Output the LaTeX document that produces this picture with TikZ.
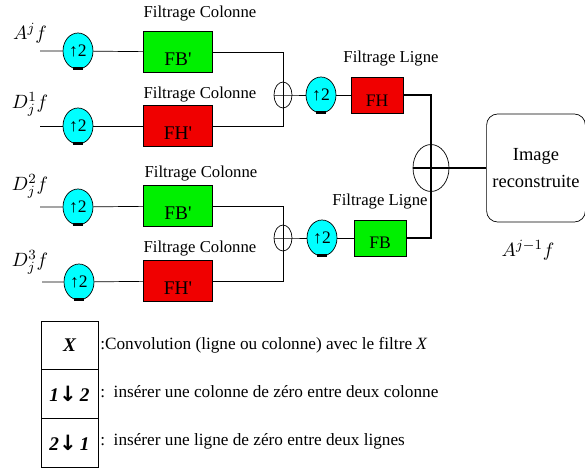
\documentclass[tikz,border=0pt]{standalone}
\usepackage{fontspec}
\setmainfont{Liberation Serif}
\newfontfamily\arrowfont{DejaVu Sans}
\usetikzlibrary{shapes.geometric}

\definecolor{upcyan}{RGB}{0,255,255}
\definecolor{fbgreen}{RGB}{0,240,0}
\definecolor{fhred}{RGB}{240,0,0}

\tikzset{
	upsmp/.style={ellipse, draw, fill=upcyan, minimum width=0.6cm, minimum height=0.72cm, inner sep=0pt, font=\fontsize{10}{10}\selectfont},
	filtcol/.style={rectangle, draw, minimum width=1.38cm, minimum height=0.82cm, inner sep=0pt},
	filtlig/.style={rectangle, draw, minimum width=1.04cm, minimum height=0.72cm, inner sep=0pt},
	sumsm/.style={ellipse, draw, minimum width=0.36cm, minimum height=0.52cm, inner sep=0pt},
	sumbig/.style={ellipse, draw, minimum width=0.72cm, minimum height=0.94cm, inner sep=0pt},
	ttl/.style={font=\fontsize{9.5}{11}\selectfont, inner sep=0pt},
	boxtxt/.style={font=\fontsize{11}{12}\selectfont, inner sep=0pt},
	sig/.style={font=\fontsize{11}{12}\selectfont, inner sep=0pt},
	cell/.style={rectangle, draw, minimum width=1.14cm, minimum height=0.974cm, inner sep=0pt, font=\fontsize{11}{12}\selectfont\bfseries\itshape},
	legtxt/.style={anchor=west, inner sep=0pt, font=\fontsize{9.8}{11}\selectfont}
}
\newcommand{\downarr}{{\arrowfont\upshape\bfseries\fontsize{12}{12}\selectfont ↓}}

\begin{document}
\begin{tikzpicture}[x=0.02cm, y=-0.02cm]
		\useasboundingbox (0,0) rectangle (585,470);
		%%%%% START %%%%%
		% inputs
		\node[sig] (a1) at (30,33) {$A^{j}f$};
		\node[sig] (a2) at (30,104) {$D^{1}_{j}f$};
		\node[sig] (a3) at (30,186) {$D^{2}_{j}f$};
		\node[sig] (a4) at (30,262) {$D^{3}_{j}f$};
		\coordinate (in1) at (40,51);
		\coordinate (in2) at (40,126);
		\coordinate (in3) at (40,207);
		\coordinate (in4) at (42,282);
		
		% up-sampling on the columns
		\node[upsmp] (u1) at (78,51) {↑2};
		\node[upsmp] (u2) at (78,126) {↑2};
		\node[upsmp] (u3) at (78,207) {↑2};
		\node[upsmp] (u4) at (79,282) {↑2};
		
		% column filters
		\node[filtcol, fill=fbgreen] (c1) at (178,52) {};
		\node[filtcol, fill=fhred] (c2) at (178,126) {};
		\node[filtcol, fill=fbgreen] (c3) at (178,206) {};
		\node[filtcol, fill=fhred] (c4) at (178,281) {};
		\node[boxtxt] (t1) at ([yshift=-4pt]c1.center) {FB\textquotesingle};
		\node[boxtxt] (t2) at ([yshift=-4pt]c2.center) {FH\textquotesingle};
		\node[boxtxt] (t3) at ([yshift=-4pt]c3.center) {FB\textquotesingle};
		\node[boxtxt] (t4) at ([yshift=-4pt]c4.center) {FH\textquotesingle};
		\node[ttl] (h1) at (200,14) {Filtrage Colonne};
		\node[ttl] (h2) at (200,95) {Filtrage Colonne};
		\node[ttl] (h3) at (201,174) {Filtrage Colonne};
		\node[ttl] (h4) at (200,249) {Filtrage Colonne};
		
		\draw (in1) -- (u1) -- (c1);
		\draw (in2) -- (u2) -- (c2);
		\draw (in3) -- (u3) -- (c3);
		\draw (in4) -- (u4) -- (c4);
		
		% first sums
		\node[sumsm] (s1) at (283,95) {};
		\node[sumsm] (s2) at (283,238) {};
		\draw (c1.east) -| (s1.center);
		\draw (c2.east) -| (s1.center);
		\draw (c3.east) -| (s2.center);
		\draw (c4.east) -| (s2.center);
		
		% row stage
		\node[upsmp] (u5) at (321,95) {↑2};
		\node[upsmp] (u6) at (322,238) {↑2};
		\node[filtlig, fill=fhred] (fh) at (377,95) {};
		\node[filtlig, fill=fbgreen] (fb) at (380,238) {};
		\node[boxtxt, font=\fontsize{10}{11}\selectfont] (t5) at ([yshift=-3.5pt]fh.center) {FH};
		\node[boxtxt, font=\fontsize{10}{11}\selectfont] (t6) at ([yshift=-2.5pt]fb.center) {FB};
		\node[ttl] (h5) at (391,59) {Filtrage Ligne};
		\node[ttl] (h6) at (380,202) {Filtrage Ligne};
		
		\draw (s1.west) -- (s1.east) -- (u5) -- (fh);
		\draw (s2.west) -- (s2.east) -- (u6) -- (fb);
		
		% dark rim under each up-sampler
		\foreach \u in {u1,u2,u3,u4,u5,u6}
			\draw[line width=1.3pt] (\u.-105) -- (\u.-75);
		
		% final sum and output
		\node[sumbig] (S) at (431,168) {};
		\node[draw, rounded corners=0.22cm, minimum width=1.92cm, minimum height=2.16cm, align=center, font=\fontsize{10.5}{15}\selectfont] (img) at (536,168) {Image\\reconstruite};
		\node[sig] (out) at (528,250) {$A^{j-1}f$};
		\draw[line width=1.2pt] (fh.east) -| (S.center);
		\draw[line width=1.2pt] (fb.east) -| (S.center);
		\draw[line width=1.2pt] (S.west) -- (img.west);
		
		% legend
		\node[cell] (kx) at (69.5,345.3) {X};
		\node[cell] (k12) at (69.5,394) {1\downarr\,2};
		\node[cell] (k21) at (69.5,442.7) {2\downarr\,1};
		\node[legtxt] (lx) at (100,345) {:Convolution (ligne ou colonne) avec le filtre \textit{X}};
		\node[legtxt] (l12) at (100,392) {:\enspace insérer une colonne de zéro entre deux colonne};
		\node[legtxt] (l21) at (100,441) {:\enspace insérer une ligne de zéro entre deux lignes};
		%%%%% END %%%%%
\end{tikzpicture}
\end{document}
